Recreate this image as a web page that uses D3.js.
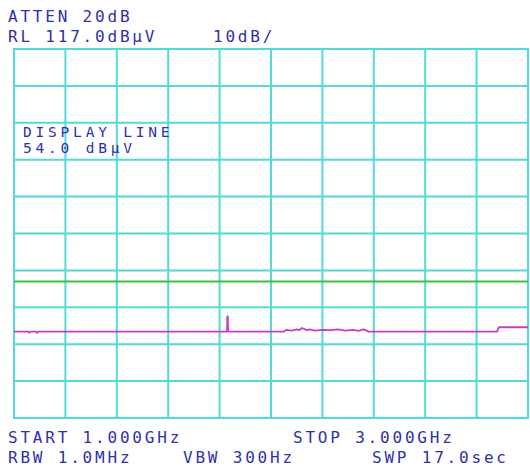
<!DOCTYPE html>
<html>
<head>
<meta charset="utf-8">
<script src="https://cdn.jsdelivr.net/npm/d3@7"></script>
<style>
  body { margin: 0; background: #fff; }
  text { font-family: "DejaVu Sans Mono", monospace; font-size: 16px; fill: #3030ac; letter-spacing: 2.8px; }
  text.small { font-size: 14.5px; letter-spacing: 3.8px; }
</style>
</head>
<body>
<div id="chart"></div>
<script>
let dim = { width: 530, height: 468 };

// analyzer settings
const refLevel = 117;      // dBuV
const dbPerDiv = 10;
const startGHz = 1.0;
const stopGHz = 3.0;
const displayLine = 54.0;  // dBuV

// trace: [GHz, dBuV]
const traceFreq = [1.000, 1.055, 1.060, 1.065, 1.085, 1.090, 1.095, 1.400, 1.829, 1.830, 1.832, 1.833, 1.834,
  2.050, 2.060, 2.080, 2.100, 2.110, 2.120, 2.140, 2.150, 2.170, 2.200, 2.230, 2.260, 2.290, 2.320, 2.340, 2.360, 2.375, 2.380,
  2.880, 2.886, 3.000];
const traceLevel = [40.4, 40.4, 40.1, 40.4, 40.4, 40.1, 40.4, 40.4, 40.4, 44.6, 44.6, 40.6, 40.4,
  40.4, 40.9, 40.7, 41.0, 40.8, 41.4, 40.8, 41.0, 40.7, 40.9, 40.8, 41.0, 40.7, 40.9, 40.6, 41.0, 40.6, 40.4,
  40.4, 41.6, 41.6];

const topLines = ['ATTEN 20dB', 'RL 117.0dBµV'];
const bottomLeft = ['START 1.000GHz', 'RBW 1.0MHz'];

let svg = d3.select('#chart').append('svg').attr('width', dim.width).attr('height', dim.height);

let x = d3.scaleLinear().domain([startGHz, stopGHz]).range([14, 528]);
let y = d3.scaleLinear().domain([refLevel - 10 * dbPerDiv, refLevel]).range([418, 49]);

const gridColor = '#55d8da';

// graticule
let xTicks = d3.range(0, 11).map(i => startGHz + i * (stopGHz - startGHz) / 10);
let yTicks = d3.range(0, 11).map(i => refLevel - i * dbPerDiv);

svg.append('g').selectAll('line').data(xTicks).join('line')
  .attr('x1', d => x(d)).attr('x2', d => x(d))
  .attr('y1', y.range()[1]).attr('y2', y.range()[0])
  .attr('stroke', gridColor).attr('stroke-width', 2);

svg.append('g').selectAll('line').data(yTicks).join('line')
  .attr('x1', x.range()[0] - 1).attr('x2', x.range()[1] + 1)
  .attr('y1', d => y(d)).attr('y2', d => y(d))
  .attr('stroke', gridColor).attr('stroke-width', 2);

// display line
svg.append('line')
  .attr('x1', x(startGHz)).attr('x2', x(stopGHz))
  .attr('y1', y(displayLine)).attr('y2', y(displayLine))
  .attr('stroke', '#3cc43c').attr('stroke-width', 2);

// trace
let trace = traceFreq.map((f, i) => [f, traceLevel[i]]);
svg.append('path')
  .datum(trace)
  .attr('fill', 'none')
  .attr('stroke', '#c83cc8')
  .attr('stroke-width', 1.8)
  .attr('stroke-linejoin', 'bevel')
  .attr('d', d3.line().x(d => x(d[0])).y(d => y(d[1])));

// annotations
svg.append('text').attr('x', 8).attr('y', 22).text(topLines[0]);
svg.append('text').attr('x', 8).attr('y', 42).text(topLines[1]);
svg.append('text').attr('x', 213).attr('y', 42).text(dbPerDiv + 'dB/');

svg.append('text').attr('class', 'small').attr('x', 23).attr('y', 137).text('DISPLAY LINE');
svg.append('text').attr('class', 'small').attr('x', 23).attr('y', 153).text(displayLine.toFixed(1) + ' dBµV');

svg.append('text').attr('x', 8).attr('y', 443).text(bottomLeft[0]);
svg.append('text').attr('x', 293).attr('y', 443).text('STOP ' + stopGHz.toFixed(3) + 'GHz');
svg.append('text').attr('x', 8).attr('y', 463).text(bottomLeft[1]);
svg.append('text').attr('x', 183).attr('y', 463).text('VBW 300Hz');
svg.append('text').attr('x', 372).attr('y', 463).text('SWP 17.0sec');
</script>
</body>
</html>
